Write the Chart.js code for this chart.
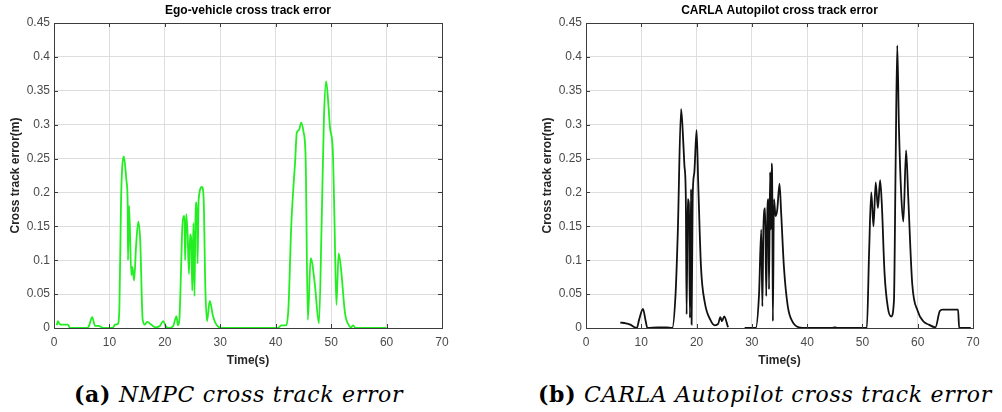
<!DOCTYPE html>
<html>
<head>
<meta charset="utf-8">
<script src="https://cdn.jsdelivr.net/npm/chart.js@4.4.1/dist/chart.umd.min.js"></script>
<style>
    body { margin: 0; background: #fff; width: 1002px; height: 412px; overflow: hidden; position: relative; }
    .plot { position: absolute; top: 0; height: 370px; }
    .caption { position: absolute; top: 381px; font-family: 'DejaVu Serif', serif; font-size: 22px; line-height: 26px; letter-spacing: 0.7px; color: #000; white-space: nowrap; }
    .caption b { font-style: normal; }
    .caption i { font-style: italic; }
</style>
</head>
<body>
<div class="plot" style="left:0;width:500px;"><canvas id="egoChart" width="500" height="370"></canvas></div>
<div class="plot" style="left:500px;width:502px;"><canvas id="carlaChart" width="502" height="370"></canvas></div>
<div class="caption" style="left:74px;"><b>(a)</b> <i>NMPC cross track error</i></div>
<div class="caption" style="left:538px;"><b>(b)</b> <i>CARLA Autopilot cross track error</i></div>
<script>
// tempo (s) e erro lateral (m)
const egoTime = [0.5, 0.7, 1.0, 1.5, 2.5, 2.9, 6.0, 6.3, 6.9, 7.4, 8.0, 9.0, 10.6, 11.0, 11.5, 11.8, 12.1, 12.6, 13.1, 13.3,
    13.35, 13.55, 13.95, 14.15, 14.45, 14.8, 15.2, 15.55, 16.0, 16.4, 16.8, 17.4, 18.3, 19.1, 19.7, 20.2, 20.8, 21.5, 22.1, 22.35,
    22.6, 22.9, 23.1, 23.35, 23.55, 23.65, 23.85, 24.1, 24.35, 24.55, 24.75, 24.95, 25.15, 25.35, 25.55, 25.75, 25.9, 26.1, 26.7, 27.0,
    27.3, 27.6, 28.1, 28.7, 29.3, 30.2, 40.4, 41.0, 41.9, 42.3, 42.8, 43.2, 43.5, 43.8, 44.2, 44.6, 45.0, 45.4, 45.8, 46.3,
    46.6, 47.1, 47.8, 48.3, 48.7, 49.1, 49.5, 49.8, 50.3, 50.6, 50.95, 51.35, 51.75, 52.5, 53.2, 53.6, 53.95, 54.4, 60.0];
const egoError = [0.004, 0.010, 0.006, 0.005, 0.005, 0.000, 0.000, 0.003, 0.016, 0.003, 0.003, 0.000, 0.000, 0.005, 0.006, 0.030, 0.190, 0.253, 0.215, 0.180,
    0.100, 0.180, 0.078, 0.090, 0.070, 0.120, 0.157, 0.130, 0.012, 0.005, 0.009, 0.006, 0.001, 0.003, 0.010, 0.002, 0.000, 0.003, 0.017, 0.004,
    0.010, 0.080, 0.140, 0.165, 0.165, 0.100, 0.168, 0.140, 0.080, 0.138, 0.132, 0.055, 0.155, 0.047, 0.185, 0.185, 0.095, 0.190, 0.208, 0.190,
    0.060, 0.010, 0.040, 0.017, 0.005, 0.000, 0.000, 0.004, 0.004, 0.030, 0.150, 0.209, 0.245, 0.288, 0.292, 0.303, 0.290, 0.250, 0.012, 0.103,
    0.095, 0.061, 0.007, 0.160, 0.310, 0.364, 0.330, 0.295, 0.262, 0.160, 0.034, 0.110, 0.090, 0.022, 0.004, 0.001, 0.004, 0.000, 0.000];

const carlaTime = [6.2, 7.2, 8.0, 9.2, 9.6, 10.3, 10.8, 11.1, 13.0, 14.5, 15.6, 16.2, 16.6, 17.2, 17.5, 17.8, 18.05, 18.2, 18.4, 18.6,
    18.8, 19.0, 19.1, 19.3, 19.6, 20.0, 20.3, 20.8, 21.5, 22.5, 23.3, 23.9, 24.3, 24.6, 25.0, 25.7, 27.0, 28.7, 30.7, 31.3,
    31.7, 31.9, 32.1, 32.4, 32.6, 32.8, 33.0, 33.1, 33.3, 33.45, 33.6, 33.7, 33.8, 34.0, 34.3, 34.6, 35.0, 35.3, 35.8, 36.5,
    37.3, 38.5, 40.0, 44.5, 45.0, 45.5, 50.8, 51.2, 51.6, 52.0, 52.4, 52.8, 53.2, 53.5, 54.0, 54.6, 55.2, 55.7, 56.0, 56.3,
    56.6, 57.0, 57.4, 57.9, 58.3, 59.0, 60.0, 61.0, 62.0, 63.2, 64.0, 64.5, 67.3, 67.5, 69.6];
const carlaError = [0.008, 0.007, 0.005, 0.000, 0.012, 0.028, 0.010, 0.000, 0.001, 0.001, 0.000, 0.050, 0.140, 0.323, 0.290, 0.240, 0.195, 0.020, 0.190, 0.184,
    0.015, 0.205, 0.005, 0.195, 0.230, 0.292, 0.213, 0.090, 0.037, 0.012, 0.004, 0.006, 0.016, 0.010, 0.017, 0.001, null, 0.000, 0.000, 0.050,
    0.145, 0.032, 0.150, 0.177, 0.047, 0.170, 0.190, 0.057, 0.230, 0.145, 0.243, 0.194, 0.010, 0.190, 0.165, 0.175, 0.213, 0.170, 0.090, 0.032,
    0.010, 0.001, 0.000, 0.000, 0.001, 0.000, 0.000, 0.110, 0.200, 0.150, 0.215, 0.177, 0.218, 0.184, 0.081, 0.030, 0.017, 0.040, 0.238, 0.417,
    0.297, 0.200, 0.157, 0.262, 0.190, 0.066, 0.025, 0.010, 0.005, 0.001, 0.025, 0.027, 0.027, 0.000, 0.000];

const xTicks = [0, 10, 20, 30, 40, 50, 60, 70];
const yTicks = [0, 0.05, 0.1, 0.15, 0.2, 0.25, 0.3, 0.35, 0.4, 0.45];

const FONT = "'Liberation Sans', Arial, sans-serif";

function toPoints(xs, ys) {
    return xs.map((x, i) => ({ x: x, y: ys[i] }));
}

// moldura estilo MATLAB: caixa fechada, titulo centrado e ticks internos
const matlabFrame = {
    id: 'matlabFrame',
    afterDraw(chart, args, opts) {
        const { ctx, chartArea: a, scales } = chart;
        ctx.save();
        ctx.strokeStyle = '#3c3c3c';
        ctx.lineWidth = 1;
        ctx.strokeRect(Math.round(a.left) + 0.5, Math.round(a.top) + 0.5, Math.round(a.right - a.left), Math.round(a.bottom - a.top));
        ctx.beginPath();
        scales.x.ticks.forEach(t => {
            const px = Math.round(scales.x.getPixelForValue(t.value)) + 0.5;
            ctx.moveTo(px, a.bottom); ctx.lineTo(px, a.bottom - 4);
            ctx.moveTo(px, a.top); ctx.lineTo(px, a.top + 4);
        });
        scales.y.ticks.forEach(t => {
            const py = Math.round(scales.y.getPixelForValue(t.value)) + 0.5;
            ctx.moveTo(a.left, py); ctx.lineTo(a.left + 4, py);
            ctx.moveTo(a.right, py); ctx.lineTo(a.right - 4, py);
        });
        ctx.stroke();
        ctx.fillStyle = '#000';
        ctx.font = 'bold 12px ' + FONT;
        ctx.textAlign = 'center';
        ctx.textBaseline = 'middle';
        ctx.fillText(opts.text, (a.left + a.right) / 2, 11);
        ctx.restore();
    }
};

function buildChart(id, title, points, color, padLeft, padRight) {
    const ctx = document.getElementById(id).getContext('2d');
    return new Chart(ctx, {
        type: 'line',
        data: {
            datasets: [{
                data: points,
                borderColor: color,
                borderWidth: 1.8,
                pointRadius: 0,
                fill: false,
                spanGaps: false,
                cubicInterpolationMode: 'monotone'
            }]
        },
        options: {
            responsive: false,
            animation: false,
            events: [],
            layout: { padding: { left: padLeft, right: padRight, top: 23, bottom: 0 } },
            plugins: {
                legend: { display: false },
                tooltip: { enabled: false },
                matlabFrame: { text: title }
            },
            scales: {
                x: {
                    type: 'linear',
                    min: 0,
                    max: 70,
                    afterBuildTicks: (scale) => { scale.ticks = xTicks.map(v => ({ value: v })); },
                    afterFit: (scale) => { scale.height = 42; },
                    ticks: { color: '#4a4a4a', font: { family: FONT, size: 12 }, padding: 7, maxRotation: 0 },
                    grid: { color: '#dedede', drawTicks: false },
                    border: { display: false },
                    title: { display: true, text: 'Time(s)', color: '#262626', font: { family: FONT, size: 12, weight: 'bold' }, padding: { top: 0, bottom: 2 } }
                },
                y: {
                    type: 'linear',
                    min: 0,
                    max: 0.45,
                    afterBuildTicks: (scale) => { scale.ticks = yTicks.map(v => ({ value: v })); },
                    afterFit: (scale) => { scale.width = 54; },
                    ticks: {
                        color: '#4a4a4a',
                        font: { family: FONT, size: 12 },
                        padding: 4,
                        callback: (v) => String(parseFloat(Number(v).toFixed(2)))
                    },
                    grid: { color: '#dedede', drawTicks: false },
                    border: { display: false },
                    title: { display: true, text: 'Cross track error(m)', color: '#262626', font: { family: FONT, size: 12, weight: 'bold' }, padding: { top: 8, bottom: 0 } }
                }
            }
        },
        plugins: [matlabFrame]
    });
}

buildChart('egoChart', 'Ego-vehicle cross track error', toPoints(egoTime, egoError), '#22ee22', 0, 58);
buildChart('carlaChart', 'CARLA Autopilot cross track error', toPoints(carlaTime, carlaError), '#111111', 32, 29);
</script>
</body>
</html>
